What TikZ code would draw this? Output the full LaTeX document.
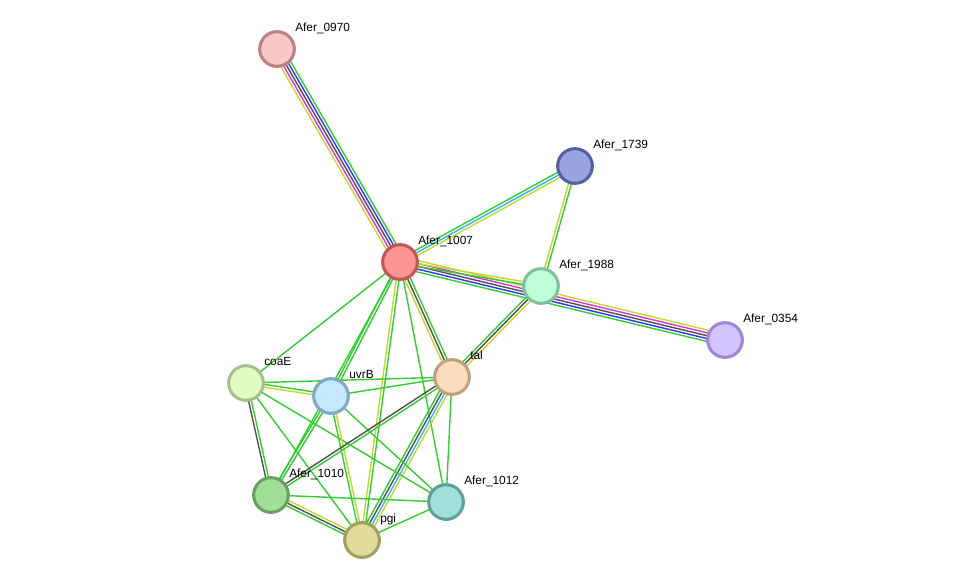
\documentclass[tikz,border=0pt]{standalone}
\usepackage{fontspec}
\setmainfont{Liberation Sans}
\usetikzlibrary{calc}
\pgfdeclarelayer{bg}
\pgfsetlayers{bg,main}
\definecolor{eg}{HTML}{33CC33}
\definecolor{eb}{HTML}{3333FF}
\definecolor{ek}{HTML}{505050}
\definecolor{em}{HTML}{DD33DD}
\definecolor{ey}{HTML}{C2D730}
\definecolor{ec}{HTML}{33B8E8}
\tikzset{
  x=0.75pt, y=-0.75pt,
  prot/.style={circle, minimum size=26pt, inner sep=0pt, line width=2.3pt},
  plabel/.style={anchor=base west, font=\fontsize{8.9}{10}\selectfont, inner sep=0pt},
  eline/.style={line width=1.05pt},
}
\newcommand{\netedge}[3]{%
  \foreach \c [count=\i] in {#3} {\xdef\nlines{\i}}%
  \foreach \c [count=\i] in {#3} {%
    \pgfmathsetmacro\off{(\i-(\nlines+1)/2)*2.1}%
    \draw[eline, draw=\c] ($(#1.center)!\off pt!90:(#2.center)$) -- ($(#2.center)!\off pt!-90:(#1.center)$);
  }%
}
\begin{document}
\begin{tikzpicture}
\useasboundingbox (0,0) rectangle (975,585);
% nodes
\node[prot, fill={rgb,255:red,248;green,200;blue,200}, draw={rgb,255:red,190;green,128;blue,128}] (n0970) at (277,49) {};
\node[prot, fill={rgb,255:red,153;green,163;blue,223}, draw={rgb,255:red,84;green,94;blue,160}] (n1739) at (575,166) {};
\node[prot, fill={rgb,255:red,255;green,148;blue,148}, draw={rgb,255:red,192;green,88;blue,88}] (n1007) at (400,262) {};
\node[prot, fill={rgb,255:red,192;green,255;blue,216}, draw={rgb,255:red,128;green,192;blue,160}] (n1988) at (541,286) {};
\node[prot, fill={rgb,255:red,211;green,195;blue,255}, draw={rgb,255:red,156;green,136;blue,208}] (n0354) at (725,340) {};
\node[prot, fill={rgb,255:red,226;green,252;blue,196}, draw={rgb,255:red,168;green,192;blue,144}] (ncoaE) at (246,383) {};
\node[prot, fill={rgb,255:red,196;green,232;blue,252}, draw={rgb,255:red,128;green,168;blue,196}] (nuvrB) at (331,396) {};
\node[prot, fill={rgb,255:red,252;green,220;blue,188}, draw={rgb,255:red,192;green,160;blue,128}] (ntal) at (452,377) {};
\node[prot, fill={rgb,255:red,160;green,224;blue,150}, draw={rgb,255:red,104;green,160;blue,96}] (n1010) at (271,495) {};
\node[prot, fill={rgb,255:red,159;green,224;blue,216}, draw={rgb,255:red,96;green,160;blue,152}] (n1012) at (446,502) {};
\node[prot, fill={rgb,255:red,224;green,220;blue,152}, draw={rgb,255:red,160;green,160;blue,96}] (npgi) at (362,540) {};
% labels
\node[plabel] (l0970) at ($(n0970)+(18,-17.5)$) {Afer\_0970};
\node[plabel] (l1739) at ($(n1739)+(18,-17.5)$) {Afer\_1739};
\node[plabel] (l1007) at ($(n1007)+(18,-17.5)$) {Afer\_1007};
\node[plabel] (l1988) at ($(n1988)+(18,-17.5)$) {Afer\_1988};
\node[plabel] (l0354) at ($(n0354)+(18,-17.5)$) {Afer\_0354};
\node[plabel] (lcoaE) at ($(ncoaE)+(18,-17.5)$) {coaE};
\node[plabel] (luvrB) at ($(nuvrB)+(18,-17.5)$) {uvrB};
\node[plabel] (ltal) at ($(ntal)+(18,-17.5)$) {tal};
\node[plabel] (l1010) at ($(n1010)+(18,-17.5)$) {Afer\_1010};
\node[plabel] (l1012) at ($(n1012)+(18,-17.5)$) {Afer\_1012};
\node[plabel] (lpgi) at ($(npgi)+(18,-17.5)$) {pgi};
% edges
\begin{pgfonlayer}{bg}
\netedge{n1007}{n0970}{eg,eb,ek,em,ey}
\netedge{n1007}{n0354}{eg,eb,ek,em,ey}
\netedge{n1007}{n1739}{ey,ec,eg}
\netedge{n1007}{n1988}{eg,ey}
\netedge{n1739}{n1988}{ey,eg}
\netedge{n1007}{ntal}{ey,ek,eg}
\netedge{n1988}{ntal}{eg,ek,ey}
\netedge{n1007}{npgi}{ey,eg}
\netedge{n1007}{nuvrB}{eg,eg}
\netedge{n1007}{ncoaE}{eg}
\netedge{n1007}{n1010}{eg}
\netedge{n1007}{n1012}{eg}
\netedge{ntal}{npgi}{eg,ek,ec,ey}
\netedge{n1010}{npgi}{eg,ek,ey}
\netedge{ncoaE}{n1010}{ek,eg}
\netedge{ncoaE}{nuvrB}{ey,eg}
\netedge{ncoaE}{ntal}{eg}
\netedge{ncoaE}{npgi}{eg}
\netedge{ncoaE}{n1012}{eg}
\netedge{nuvrB}{ntal}{eg}
\netedge{nuvrB}{n1010}{eg,eg}
\netedge{nuvrB}{npgi}{eg,ey}
\netedge{nuvrB}{n1012}{eg}
\netedge{ntal}{n1010}{ek,eg}
\netedge{ntal}{n1012}{eg}
\netedge{n1010}{n1012}{eg}
\netedge{n1012}{npgi}{eg}
\end{pgfonlayer}
\end{tikzpicture}
\end{document}
